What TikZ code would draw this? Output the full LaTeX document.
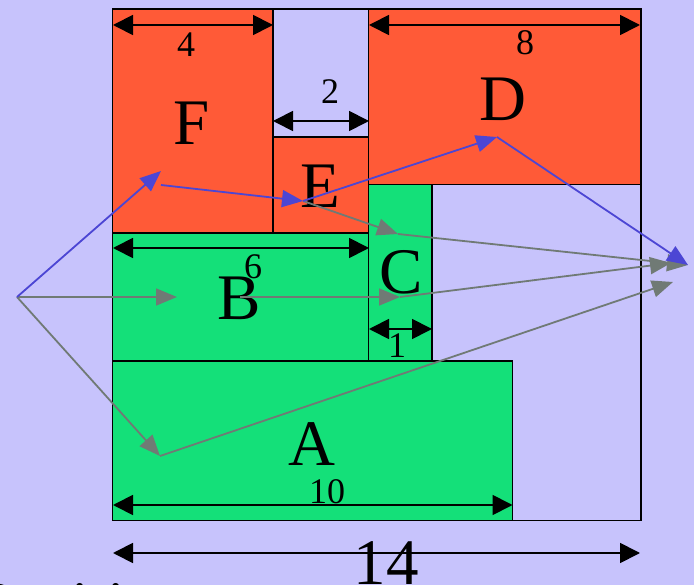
\documentclass[tikz,border=0pt]{standalone}
\usepackage{fontspec}
\setmainfont{Liberation Serif}
\usetikzlibrary{arrows.meta}
\definecolor{bgc}{RGB}{199,195,252}
\definecolor{redc}{RGB}{255,90,55}
\definecolor{grnc}{RGB}{20,224,121}
\definecolor{bluc}{RGB}{76,70,212}
\definecolor{gryc}{RGB}{112,122,117}
\tikzset{
  box/.style={draw=black, line width=1.8pt},
  dimline/.style={draw=black, line width=1.8pt, {Triangle[length=20pt,width=20pt]}-{Triangle[length=20pt,width=20pt]}},
  bluearr/.style={draw=bluc, line width=1.8pt, -{Triangle[length=21pt,width=17pt]}},
  grayarr/.style={draw=gryc, line width=1.8pt, -{Triangle[length=21pt,width=17pt]}},
  bigl/.style={inner sep=0pt, anchor=base, font=\fontsize{65}{65}\selectfont},
  smalll/.style={inner sep=0pt, anchor=base, font=\fontsize{36}{36}\selectfont}
}
\begin{document}
\begin{tikzpicture}[x=1pt,y=-1pt]
\useasboundingbox (0,0) rectangle (694,585);
\fill[bgc] (0,0) rectangle (694,585);
\clip (0,0) rectangle (694,585);
% rectangles
\draw[box] (112.5,9) rectangle (641,520.5);
\filldraw[box, fill=redc] (112.5,9) rectangle (273,233);
\filldraw[box, fill=redc] (273,137) rectangle (368.5,233);
\filldraw[box, fill=redc] (368.5,9) rectangle (641,184.5);
\filldraw[box, fill=grnc] (368.5,184.5) rectangle (432,361);
\filldraw[box, fill=grnc] (112.5,233) rectangle (368.5,361);
\filldraw[box, fill=grnc] (112.5,361) rectangle (512.5,520.5);
% dimension coordinates
\coordinate (d4a) at (113,25);   \coordinate (d4b) at (273,25);
\coordinate (d8a) at (369,25);   \coordinate (d8b) at (640,25);
\coordinate (d2a) at (273,121);  \coordinate (d2b) at (369,121);
\coordinate (d6a) at (113,248);  \coordinate (d6b) at (369,248);
\coordinate (d1a) at (369,329);  \coordinate (d1b) at (432,329);
\coordinate (d10a) at (113,505); \coordinate (d10b) at (512.5,505);
\coordinate (d14a) at (113,553); \coordinate (d14b) at (640,553);
\draw[dimline] (d4a) -- (d4b);
\draw[dimline] (d8a) -- (d8b);
\draw[dimline] (d2a) -- (d2b);
\draw[dimline] (d6a) -- (d6b);
\draw[dimline] (d1a) -- (d1b);
\draw[dimline] (d10a) -- (d10b);
\draw[dimline] (d14a) -- (d14b);
% dimension labels
\node[smalll] (n4) at (186,57) {4};
\node[smalll] (n8) at (525,55) {8};
\node[smalll] (n2) at (330,104) {2};
\node[smalll] (n6) at (253,279) {6};
\node[smalll] (n1) at (397,358) {1};
\node[smalll] (n10) at (327,503) {10};
\node[bigl] (n14) at (386,584) {14};
% letters
\node[bigl] (F) at (192,145) {F};
\node[bigl] (D) at (503,121) {D};
\node[bigl] (E) at (320,208) {E};
\node[bigl] (C) at (401,294) {C};
\node[bigl] (B) at (239,320) {B};
\node[bigl] (A) at (312,465) {A};
\node[bigl, anchor=base west] (pos) at (-22.5,626) {Positions};
% arrow points
\coordinate (p0) at (17,297);
\coordinate (fin) at (161,171);
\coordinate (fout) at (161,185);
\coordinate (ept) at (303,201);
\coordinate (dpt) at (497,137);
\coordinate (tgt) at (688,265);
\coordinate (bin) at (177,297);
\coordinate (bout) at (240,297);
\coordinate (cin) at (400,297);
\coordinate (cin2) at (398,234);
\coordinate (ain) at (160,456);
\coordinate (t1) at (671,263);
\coordinate (t2) at (673,282);
% gray arrows
\draw[grayarr] (p0) -- (bin);
\draw[grayarr] (p0) -- (ain);
\draw[grayarr] (bout) -- (cin);
\draw[grayarr] (cin) -- (t1);
\draw[grayarr] (ain) -- (t2);
\draw[grayarr] (ept) -- (cin2);
\draw[grayarr] (cin2) -- (tgt);
% blue arrows
\draw[bluearr] (p0) -- (fin);
\draw[bluearr] (fout) -- (ept);
\draw[bluearr] (ept) -- (dpt);
\draw[bluearr] (dpt) -- (tgt);
\end{tikzpicture}
\end{document}
